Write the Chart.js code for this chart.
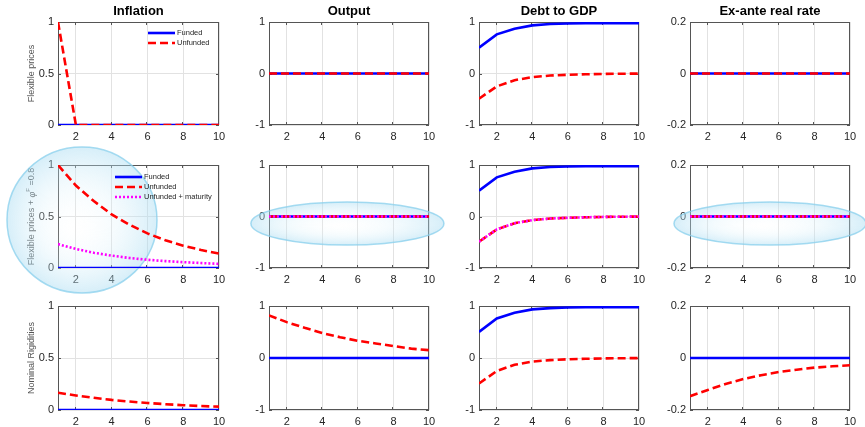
<!DOCTYPE html>
<html>
<head>
<meta charset="utf-8">
<script src="https://cdn.jsdelivr.net/npm/chart.js@4.4.1/dist/chart.umd.min.js"></script>
<style>
  body { margin: 0; background: #fff; }
  #grid { position: relative; width: 865px; height: 427px; overflow: hidden; }
  #grid canvas { position: absolute; }
</style>
</head>
<body>
<div id="grid"></div>
<script>
// horizon and ticks
const periods = [1, 2, 3, 4, 5, 6, 7, 8, 9, 10];
const xTicks = [2, 4, 6, 8, 10];
const flat = [0, 0, 0, 0, 0, 0, 0, 0, 0, 0];

// flexible prices
const inflFlexUnfunded = [1, 0, 0, 0, 0, 0, 0, 0, 0, 0];
const debtFunded = [0.50, 0.76, 0.87, 0.935, 0.96, 0.97, 0.975, 0.975, 0.975, 0.975];
const debtUnfunded = [-0.49, -0.25, -0.13, -0.07, -0.04, -0.025, -0.015, -0.008, -0.004, -0.002];

// flexible prices + phi^F = 0.8
const inflMatUnfunded = [1.00, 0.80, 0.65, 0.52, 0.42, 0.336, 0.27, 0.217, 0.175, 0.14];
const inflMatMaturity = [0.232, 0.185, 0.148, 0.12, 0.097, 0.08, 0.067, 0.057, 0.048, 0.04];

// nominal rigidities
const inflNomUnfunded = [0.166, 0.140, 0.117, 0.097, 0.081, 0.067, 0.056, 0.046, 0.038, 0.032];
const outputNomUnfunded = [0.82, 0.69, 0.58, 0.48, 0.40, 0.33, 0.28, 0.23, 0.18, 0.15];
const rateNomUnfunded = [-0.147, -0.123, -0.100, -0.081, -0.066, -0.054, -0.045, -0.037, -0.032, -0.028];

const colTitles = ['Inflation', 'Output', 'Debt to GDP', 'Ex-ante real rate'];
const rowLabels = [
  [{ t: 'Flexible prices' }],
  [{ t: 'Flexible prices + ' }, { t: 'φ', it: true }, { t: 'F', sup: true }, { t: ' =0.8' }],
  [{ t: 'Nominal Rigidities' }]
];
const yTicksInfl = [0, 0.5, 1];
const yTicksUnit = [-1, 0, 1];
const yTicksRate = [-0.2, 0, 0.2];

const FONT = '"Liberation Sans", Arial, Helvetica, sans-serif';
Chart.defaults.font.family = FONT;

const styles = {
  funded:   { label: 'Funded', borderColor: '#0000ff', borderWidth: 2.6, borderDash: [], order: 3 },
  unfunded: { label: 'Unfunded', borderColor: '#ff0000', borderWidth: 2.6, borderDash: [8, 4], order: 2 },
  maturity: { label: 'Unfunded + maturity', borderColor: '#ff00ff', borderWidth: 2.6, borderDash: [2, 2], order: 1 }
};

const panels = [
  { row: 0, col: 0, yTicks: yTicksInfl, series: { funded: flat, unfunded: inflFlexUnfunded }, legend: { dx: 90, dy: 11 } },
  { row: 0, col: 1, yTicks: yTicksUnit, series: { funded: flat, unfunded: flat } },
  { row: 0, col: 2, yTicks: yTicksUnit, series: { funded: debtFunded, unfunded: debtUnfunded } },
  { row: 0, col: 3, yTicks: yTicksRate, series: { funded: flat, unfunded: flat } },
  { row: 1, col: 0, yTicks: yTicksInfl, series: { funded: flat, unfunded: inflMatUnfunded, maturity: inflMatMaturity },
    legend: { dx: 57, dy: 12 }, glow: { cx: 0.149, cy: 0.534, rx: 75, ry: 73 } },
  { row: 1, col: 1, yTicks: yTicksUnit, series: { funded: flat, unfunded: flat, maturity: flat },
    glow: { cx: 0.49, cy: 0.568, rx: 96.5, ry: 21.5 } },
  { row: 1, col: 2, yTicks: yTicksUnit, series: { funded: debtFunded, unfunded: debtUnfunded, maturity: debtUnfunded } },
  { row: 1, col: 3, yTicks: yTicksRate, series: { funded: flat, unfunded: flat, maturity: flat },
    glow: { cx: 0.5, cy: 0.568, rx: 96, ry: 21.5 } },
  { row: 2, col: 0, yTicks: yTicksInfl, series: { funded: flat, unfunded: inflNomUnfunded } },
  { row: 2, col: 1, yTicks: yTicksUnit, series: { funded: flat, unfunded: outputNomUnfunded } },
  { row: 2, col: 2, yTicks: yTicksUnit, series: { funded: debtFunded, unfunded: debtUnfunded } },
  { row: 2, col: 3, yTicks: yTicksRate, series: { funded: flat, unfunded: rateNomUnfunded } }
];

// plot-area geometry
const colLeft = [58, 269, 479, 690];
const colWidth = [161, 160, 160, 160];
const rowTop = [22, 165, 306];
const rowHeight = [103, 103, 104];
const axisW = 30, axisH = 22, titleH = 22;

function drawGlow(ctx, a, g) {
  const cx = a.left + g.cx * a.width;
  const cy = a.top + g.cy * a.height;
  ctx.save();
  ctx.translate(cx, cy);
  ctx.scale(1, g.ry / g.rx);
  const grad = ctx.createRadialGradient(-g.rx * 0.1, g.rx * 0.1, 0, 0, 0, g.rx);
  grad.addColorStop(0, 'rgba(255,255,255,0.08)');
  grad.addColorStop(0.5, 'rgba(215,240,250,0.25)');
  grad.addColorStop(1, 'rgba(165,218,241,0.45)');
  ctx.beginPath();
  ctx.arc(0, 0, g.rx, 0, Math.PI * 2);
  ctx.fillStyle = grad;
  ctx.fill();
  ctx.restore();
  ctx.save();
  ctx.beginPath();
  ctx.ellipse(cx, cy, g.rx, g.ry, 0, 0, Math.PI * 2);
  ctx.strokeStyle = 'rgba(135,207,236,0.75)';
  ctx.lineWidth = 1.5;
  ctx.stroke();
  ctx.restore();
}

function drawRowLabel(ctx, a, parts) {
  ctx.save();
  const base = '9px ' + FONT;
  const widths = parts.map(p => {
    ctx.font = p.sup ? '6px ' + FONT : (p.it ? 'italic ' : '') + base;
    return ctx.measureText(p.t).width;
  });
  const total = widths.reduce((s, w) => s + w, 0);
  ctx.translate(a.left - 26, (a.top + a.bottom) / 2);
  ctx.rotate(-Math.PI / 2);
  ctx.fillStyle = '#555';
  ctx.textBaseline = 'middle';
  ctx.textAlign = 'left';
  let x = -total / 2;
  parts.forEach((p, i) => {
    ctx.font = p.sup ? '6px ' + FONT : (p.it ? 'italic ' : '') + base;
    ctx.fillText(p.t, x, p.sup ? -4 : 0);
    x += widths[i];
  });
  ctx.restore();
}

function makeDecor(p) {
  return {
    id: 'decor',
    beforeDatasetsDraw(chart) {
      const { ctx, chartArea: a, scales: { x, y } } = chart;
      ctx.save();
      ctx.strokeStyle = '#555';
      ctx.lineWidth = 1;
      ctx.strokeRect(a.left + 0.5, a.top + 0.5, a.width - 1, a.height - 1);
      // inward tick marks on all four sides
      ctx.beginPath();
      x.ticks.forEach(t => {
        const px = Math.round(x.getPixelForValue(t.value)) - 0.5;
        ctx.moveTo(px, a.top); ctx.lineTo(px, a.top + 3);
        ctx.moveTo(px, a.bottom); ctx.lineTo(px, a.bottom - 3);
      });
      y.ticks.forEach(t => {
        const py = Math.round(y.getPixelForValue(t.value)) + 0.5;
        ctx.moveTo(a.left, py); ctx.lineTo(a.left + 3, py);
        ctx.moveTo(a.right, py); ctx.lineTo(a.right - 3, py);
      });
      ctx.stroke();
      ctx.restore();
      if (p.col === 0) drawRowLabel(ctx, a, rowLabels[p.row]);
      if (p.glow) drawGlow(ctx, a, p.glow);
    },
    afterDatasetsDraw(chart) {
      if (!p.legend) return;
      const { ctx, chartArea: a } = chart;
      const x0 = a.left + p.legend.dx;
      let yy = a.top + p.legend.dy;
      ctx.save();
      chart.data.datasets.forEach(ds => {
        ctx.strokeStyle = ds.borderColor;
        ctx.lineWidth = ds.borderWidth;
        ctx.setLineDash(ds.borderDash);
        ctx.beginPath();
        ctx.moveTo(x0, yy); ctx.lineTo(x0 + 27, yy);
        ctx.stroke();
        ctx.setLineDash([]);
        ctx.fillStyle = '#262626';
        ctx.font = '7.5px ' + FONT;
        ctx.textBaseline = 'middle';
        ctx.fillText(ds.label, x0 + 29, yy);
        yy += 10;
      });
      ctx.restore();
    }
  };
}

const grid = document.getElementById('grid');

panels.forEach(p => {
  const padL = p.col === 0 ? 28 : 12;
  const padR = 20, padB = 8;
  const padT = p.row === 0 ? 0 : 20;
  const tH = p.row === 0 ? titleH : 0;
  const W = colWidth[p.col], H = rowHeight[p.row];

  const canvas = document.createElement('canvas');
  const cw = padL + axisW + W + padR;
  const ch = padT + tH + H + axisH + padB;
  canvas.width = cw; canvas.height = ch;
  canvas.style.width = cw + 'px'; canvas.style.height = ch + 'px';
  canvas.style.left = (colLeft[p.col] - padL - axisW) + 'px';
  canvas.style.top = (rowTop[p.row] - padT - tH) + 'px';
  grid.appendChild(canvas);

  const datasets = Object.keys(p.series).map(k => ({
    ...styles[k],
    data: periods.map((t, i) => ({ x: t, y: p.series[k][i] })),
    pointRadius: 0,
    tension: 0,
    fill: false
  }));

  const yt = p.yTicks;
  new Chart(canvas, {
    type: 'line',
    data: { datasets },
    options: {
      responsive: false,
      animation: false,
      events: [],
      layout: { padding: { left: padL, right: padR, top: padT, bottom: padB } },
      plugins: {
        legend: { display: false },
        tooltip: { enabled: false },
        title: {
          display: p.row === 0,
          text: colTitles[p.col],
          fullSize: false,
          color: '#000',
          font: { size: 13, weight: 'bold', lineHeight: 1 },
          padding: { top: 5, bottom: 4 }
        }
      },
      scales: {
        x: {
          type: 'linear', min: 1, max: 10,
          afterBuildTicks: s => { s.ticks = xTicks.map(v => ({ value: v })); },
          afterFit: s => { s.height = axisH; },
          grid: { color: '#e2e2e2', drawTicks: false },
          border: { display: false },
          ticks: { padding: 5, color: '#262626', font: { size: 11 }, maxRotation: 0, autoSkip: false, callback: v => String(v) }
        },
        y: {
          type: 'linear', min: yt[0], max: yt[yt.length - 1],
          afterBuildTicks: s => { s.ticks = yt.map(v => ({ value: v })); },
          afterFit: s => { s.width = axisW; },
          grid: { color: '#e2e2e2', drawTicks: false },
          border: { display: false },
          ticks: { padding: 4, color: '#262626', font: { size: 11 }, autoSkip: false, callback: v => String(v) }
        }
      }
    },
    plugins: [makeDecor(p)]
  });
});
</script>
</body>
</html>
